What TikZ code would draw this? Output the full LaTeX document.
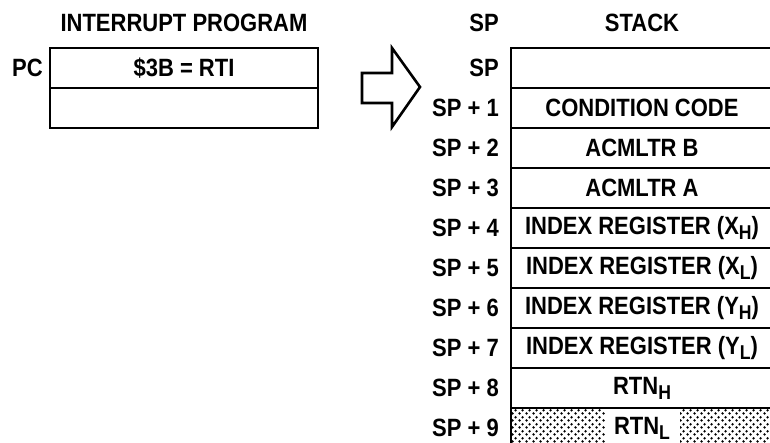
\documentclass[tikz,border=0pt]{standalone}
\usepackage{fontspec}
\setmainfont{Liberation Sans}[FakeStretch=0.88]
\usepackage{tikz}
\usetikzlibrary{positioning,patterns.meta}

% dot screen for the shaded stack cell
\tikzdeclarepattern{
    name=rtndots, type=uncolored,
    bounding box={(0pt,0pt) and (7pt,7pt)},
    tile size={(7pt,7pt)},
    code={
        \fill (1.75pt,1.75pt) circle (1.5pt);
        \fill (5.25pt,5.25pt) circle (1.5pt);
    }
}
\newcommand{\lsub}[1]{\raisebox{-5pt}{\fontsize{20}{20}\selectfont #1}}

\begin{document}
\begin{tikzpicture}[
        x=1pt, y=1pt,
        node distance=0pt,
        every node/.style={font=\fontsize{25}{28}\selectfont\bfseries},
        cell/.style={
            rectangle, draw=black, line width=1.8pt,
            outer sep=0pt, inner sep=0pt,
            minimum width=262pt, minimum height=40pt,
            align=center
        },
        prog/.style={cell, minimum width=268pt},
        reglabel/.style={inner sep=0pt},
        title/.style={inner sep=0pt},
        hollow/.style={draw=black, line width=2.6pt, line join=miter}
    ]
        \useasboundingbox (0,0) rectangle (770,443);
        \clip (0,0) rectangle (770,443);

        % interrupt program
        \node[prog, anchor=north west] (prog0) at (50,395) {\$3B = RTI};
        \node[prog, below=of prog0] (prog1) {};
        \node[reglabel, left=7pt of prog0] (pc) {PC};
        \node[title, above=16pt of prog0] (ptitle) {INTERRUPT PROGRAM};

        % hollow arrow
        \draw[hollow] (362,370) -- (392,370) -- (392,395) -- (420,356)
            -- (392,316) -- (392,340) -- (362,340) -- cycle;

        % stack
        \node[cell, anchor=north west] (sp0) at (511,395) {};
        \node[cell, below=of sp0] (sp1) {CONDITION CODE};
        \node[cell, below=of sp1] (sp2) {ACMLTR B};
        \node[cell, below=of sp2] (sp3) {ACMLTR A};
        \node[cell, below=of sp3] (sp4) {INDEX REGISTER (X\lsub{H})};
        \node[cell, below=of sp4] (sp5) {INDEX REGISTER (X\lsub{L})};
        \node[cell, below=of sp5] (sp6) {INDEX REGISTER (Y\lsub{H})};
        \node[cell, below=of sp6] (sp7) {INDEX REGISTER (Y\lsub{L})};
        \node[cell, below=of sp7] (sp8) {RTN\lsub{H}};
        \node[cell, below=of sp8, pattern=rtndots, pattern color=black] (sp9) {};
        \node[fill=white, inner sep=0pt, minimum width=75pt, minimum height=37pt]
            (rtnl) at (sp9) {RTN\lsub{L}};

        \node[reglabel, left=12pt of sp0] (lsp0) {SP};
        \foreach \i in {1,...,9}
            \node[reglabel, left=12pt of sp\i] (lsp\i) {SP + \i};
        \node[title, above=16pt of sp0] (stitle) {STACK};
        \node[title] (lsptop) at (lsp0 |- stitle) {SP};
    \end{tikzpicture}
\end{document}
